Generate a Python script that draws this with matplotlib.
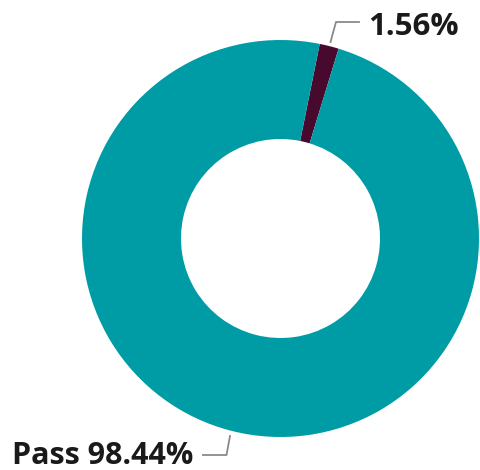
import matplotlib
matplotlib.use("Agg")
import matplotlib.pyplot as plt
from matplotlib.lines import Line2D

categories = ["Fail", "Pass"]
values = [1.56, 98.44]
colors = ["#470a2e", "#009ca6"]
label_texts = ["1.56%", "98.44%"]

W, H = 480, 470
fig = plt.figure(figsize=(W / 100, H / 100), dpi=100)
ax = fig.add_axes([0, 0, 1, 1])

cx, cy = 280.5, H - 238.5
R = 198.5
ax.pie(values, colors=colors, startangle=78.6, counterclock=False,
       radius=R, center=(cx, cy),
       wedgeprops=dict(width=99, edgecolor="none", linewidth=0))
ax.set_xlim(0, W)
ax.set_ylim(0, H)
ax.set_aspect("equal")
ax.axis("off")

font = ["Open Sans", "DejaVu Sans"]
txtcol = "#1a1a1a"
linecol = "#8a8a8a"

# top label (Fail)
ax.add_line(Line2D([330.5, 336, 359], [H - 42, H - 22, H - 22], color=linecol, lw=1.3))
ax.text(368, H - 35, label_texts[0], fontsize=22.5, fontweight="bold",
        family=font, color=txtcol, ha="left", va="baseline")

# bottom label (Pass)
ax.add_line(Line2D([230, 226.5, 203], [H - 436, H - 455, H - 455], color=linecol, lw=1.3))
ax.text(12, H - 464, categories[1] + " " + label_texts[1], fontsize=22, fontweight="bold",
        family=font, color=txtcol, ha="left", va="baseline")

fig.savefig("out.png", dpi=100)
